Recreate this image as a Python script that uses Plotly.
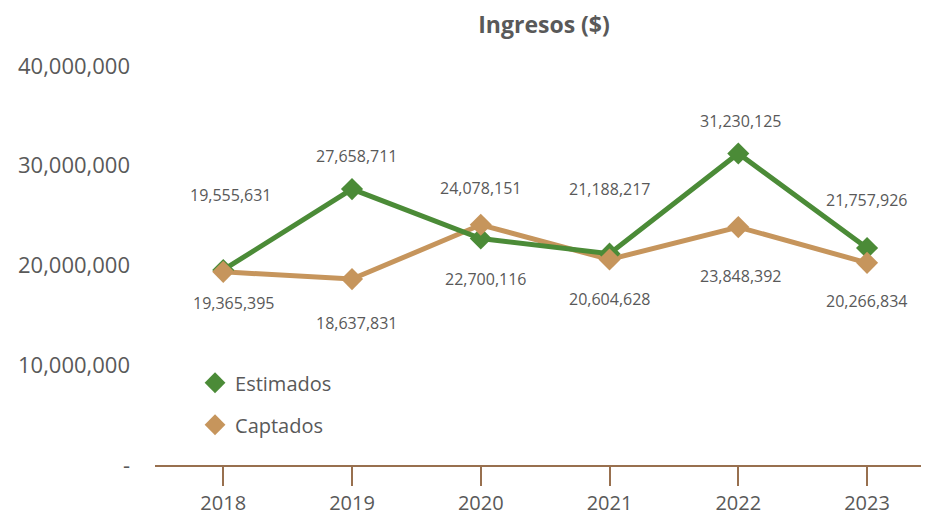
import plotly.graph_objects as go

years = ["2018", "2019", "2020", "2021", "2022", "2023"]
estimados = [19555631, 27658711, 22700116, 21188217, 31230125, 21757926]
captados = [19365395, 18637831, 24078151, 20604628, 23848392, 20266834]
y_tick_vals = [0, 10000000, 20000000, 30000000, 40000000]
y_tick_text = ["-", "10,000,000", "20,000,000", "30,000,000", "40,000,000"]

# label offsets (pixels) for the data labels
est_shift = [(7, 75), (4, 33), (5, -40), (0, 65), (2, 32), (-1, 48)]
cap_shift = [(10, -31), (4, -44), (0, 37), (0, -40), (2, -49), (-1, -38)]

GREEN = "#4b8b37"
TAN = "#c6955c"
TEXT = "#595959"
AXIS = "#98704f"
FONT = "Open Sans"

fig = go.Figure()
fig.add_trace(go.Scatter(x=years, y=captados, mode="lines", line=dict(color=TAN, width=5),
                         showlegend=False, hoverinfo="skip"))
fig.add_trace(go.Scatter(x=years, y=estimados, mode="lines", line=dict(color=GREEN, width=5),
                         showlegend=False, hoverinfo="skip"))
fig.add_trace(go.Scatter(x=years, y=estimados, mode="markers", name="Estimados", legendgroup="e",
                         marker=dict(symbol="diamond", size=17, color=GREEN)))
fig.add_trace(go.Scatter(x=years, y=captados, mode="markers", name="Captados", legendgroup="c",
                         marker=dict(symbol="diamond", size=17, color=TAN)))

for i, yr in enumerate(years):
    fig.add_annotation(x=i, y=estimados[i], text=f"{estimados[i]:,}", showarrow=False,
                       xshift=est_shift[i][0], yshift=est_shift[i][1],
                       font=dict(family=FONT, size=16, color=TEXT))
    fig.add_annotation(x=i, y=captados[i], text=f"{captados[i]:,}", showarrow=False,
                       xshift=cap_shift[i][0], yshift=cap_shift[i][1],
                       font=dict(family=FONT, size=16, color=TEXT))

fig.update_layout(
    width=921, height=509,
    margin=dict(l=147, r=4, t=58, b=52),
    paper_bgcolor="white", plot_bgcolor="white",
    font=dict(family=FONT, color=TEXT),
    title=dict(text="<b>Ingresos ($)</b>", x=0.582, xanchor="center", y=1 - 17 / 509,
               yanchor="middle", yref="container",
               font=dict(family=FONT, size=23, color=TEXT)),
    legend=dict(x=0.052, y=0.255, xanchor="left", yanchor="top", traceorder="grouped",
                tracegroupgap=13, font=dict(family=FONT, size=20, color=TEXT),
                bgcolor="rgba(0,0,0,0)"),
    xaxis=dict(type="category", range=[-0.53, 5.45], showgrid=False, showline=True,
               linecolor=AXIS, linewidth=2, ticks="outside", ticklen=19, tickwidth=2,
               tickcolor=AXIS, tickfont=dict(family=FONT, size=20, color=TEXT),
               zeroline=False, automargin=False),
    yaxis=dict(range=[0, 40000000], tickvals=y_tick_vals, ticktext=y_tick_text,
               showgrid=False, showline=False, zeroline=False, ticks="",
               ticklabelstandoff=24, automargin=False,
               tickfont=dict(family=FONT, size=22, color=TEXT)),
)

fig.write_html("out.html")
